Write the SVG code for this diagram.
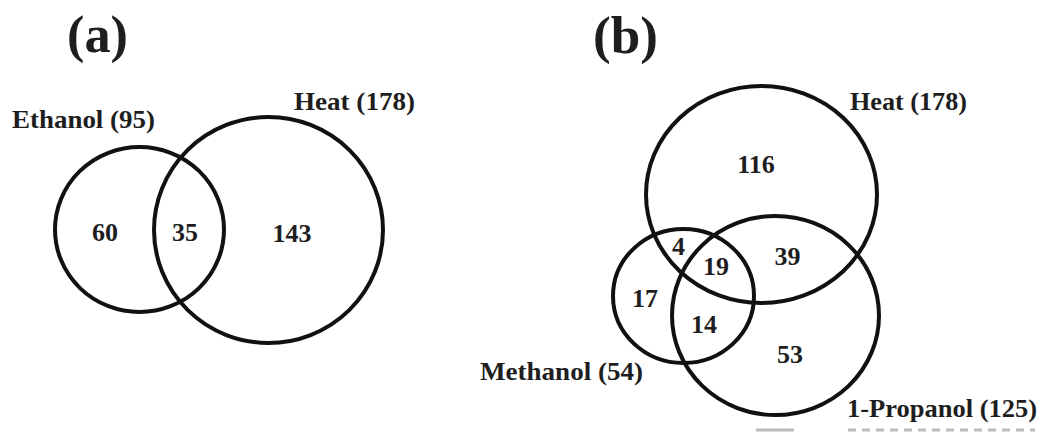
<svg xmlns="http://www.w3.org/2000/svg" width="1048" height="440" viewBox="0 0 1048 440">
  <style>
    .set { fill: none; stroke: #111; stroke-width: 4; }
    text { font-family: "Liberation Serif", "Times New Roman", serif; font-weight: bold; fill: #1e1e1e; }
    .panel { font-size: 53px; }
    .lbl { font-size: 26px; }
    .num { font-size: 26px; text-anchor: middle; }
    .frag { stroke: #bbb; stroke-width: 3; fill: none; }
  </style>
  <rect width="1048" height="440" fill="#fff"/>

  <!-- Panel (a): Ethanol vs Heat -->
  <text class="panel" x="67" y="52" textLength="61" lengthAdjust="spacingAndGlyphs">(a)</text>
  <g id="a-ethanol">
    <ellipse class="set" cx="139.5" cy="229.5" rx="84.5" ry="82.5"/>
    <text class="lbl" x="12" y="128" textLength="143" lengthAdjust="spacingAndGlyphs">Ethanol (95)</text>
  </g>
  <g id="a-heat">
    <ellipse class="set" cx="268.5" cy="230" rx="114.5" ry="113"/>
    <text class="lbl" x="294" y="110" textLength="121" lengthAdjust="spacingAndGlyphs">Heat (178)</text>
  </g>
  <g id="a-counts">
    <text class="num" x="105" y="241">60</text>
    <text class="num" x="185" y="241">35</text>
    <text class="num" x="292" y="242">143</text>
  </g>

  <!-- Panel (b): Heat, Methanol, 1-Propanol -->
  <text class="panel" x="593" y="53" textLength="65" lengthAdjust="spacingAndGlyphs">(b)</text>
  <g id="b-heat">
    <ellipse class="set" cx="761.5" cy="194.5" rx="115.5" ry="108.5"/>
    <text class="lbl" x="850" y="110" textLength="117" lengthAdjust="spacingAndGlyphs">Heat (178)</text>
  </g>
  <g id="b-propanol">
    <ellipse class="set" cx="775.5" cy="315.5" rx="103.5" ry="99.5"/>
    <text class="lbl" x="847" y="417" textLength="190" lengthAdjust="spacingAndGlyphs">1-Propanol (125)</text>
  </g>
  <g id="b-methanol">
    <ellipse class="set" cx="683.5" cy="296" rx="70.5" ry="67"/>
    <text class="lbl" x="480" y="380" textLength="163" lengthAdjust="spacingAndGlyphs">Methanol (54)</text>
  </g>
  <g id="b-counts">
    <text class="num" x="756" y="173">116</text>
    <text class="num" x="678.5" y="255">4</text>
    <text class="num" x="716" y="275">19</text>
    <text class="num" x="787.5" y="265">39</text>
    <text class="num" x="645" y="307">17</text>
    <text class="num" x="704" y="333">14</text>
    <text class="num" x="790" y="363">53</text>
  </g>

  <!-- clipped marks along the lower edge -->
  <g id="edge-marks">
    <line class="frag" x1="756" y1="430" x2="794" y2="430"/>
    <line class="frag" x1="848" y1="430" x2="1035" y2="430" stroke-dasharray="8 6"/>
  </g>
</svg>
